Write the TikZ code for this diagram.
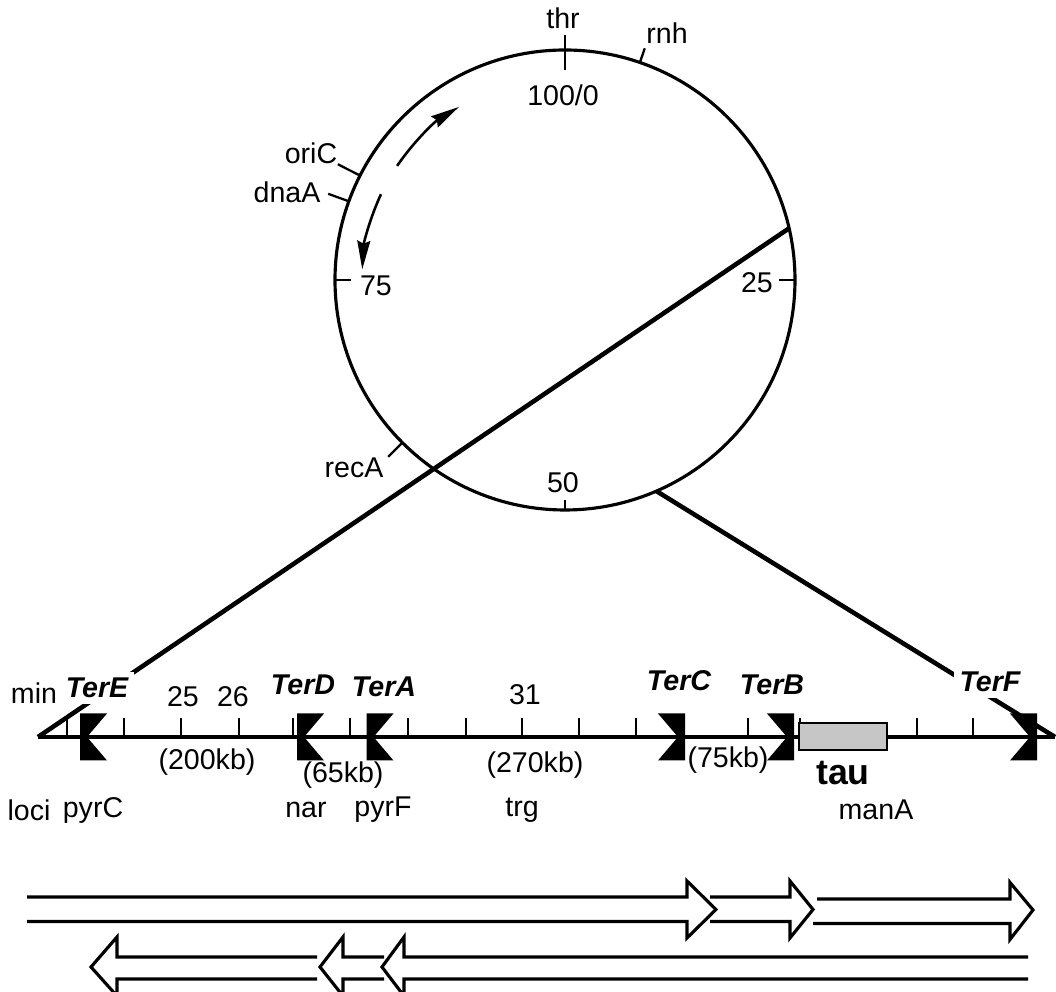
\documentclass[tikz,border=0pt]{standalone}
\usepackage{fontspec}
\setmainfont{Liberation Sans}
\usetikzlibrary{arrows.meta,calc}
\tikzset{
  lbl/.style={
    font=\fontsize{10}{12}\selectfont,
    inner sep=1pt
  },
  terlbl/.style={
    font=\fontsize{10}{12}\selectfont\bfseries\itshape,
    fill=white,
    inner sep=2pt
  },
  genelbl/.style={
    font=\fontsize{12.5}{14}\selectfont\bfseries,
    inner sep=1pt
  },
  mapline/.style={line width=1.1pt},
  zoomline/.style={line width=1.6pt},
  tickline/.style={line width=0.8pt},
  fork/.style={line width=0.9pt, -{Stealth[length=10pt,width=4.5pt,inset=1pt]}},
  blockarrow/.style={line width=1.1pt, line join=miter},
  terL/.pic={\fill (-13.5,23.5) -- (13.5,23.5) -- (-6.5,0) -- (13.5,-23.5) -- (-13.5,-23.5) -- cycle;},
  terR/.pic={\fill (13.5,23.5) -- (-13.5,23.5) -- (6.5,0) -- (-13.5,-23.5) -- (13.5,-23.5) -- cycle;}
}

\begin{document}
\begin{tikzpicture}[x=0.35pt, y=0.35pt]
  \useasboundingbox (0,0) rectangle (1056,992);

  % circular map
  \coordinate (c) at (565,712);
  \draw[mapline] (c) circle[radius=230];
  \foreach \a/\ri/\ro in {90/210/245, 71/230/245, 153/230/255, 160/230/252,
                          180/214/230, 0/214/230, 270/220/230, 225/230/250}
    \draw[tickline] ($(c)+(\a:\ri)$) -- ($(c)+(\a:\ro)$);
  \draw[fork] ($(c)+(145.8:203)$) arc[start angle=145.8, end angle=121.5, radius=203];
  \draw[fork] ($(c)+(155:203)$) arc[start angle=155, end angle=177, radius=203];

  \node[lbl] (thr) at (563,974) {thr};
  \node[lbl] (zero) at (563,897) {100/0};
  \node[lbl] (rnh) at (667,959) {rnh};
  \node[lbl] (oric) at (311,839) {oriC};
  \node[lbl] (dnaa) at (287,800) {dnaA};
  \node[lbl] (m75) at (376,706) {75};
  \node[lbl] (m25) at (757,709) {25};
  \node[lbl] (m50) at (563,509) {50};
  \node[lbl] (reca) at (354,524) {recA};

  % expanded region
  \coordinate (axL) at (38,255);
  \coordinate (axR) at (1055,255);
  \draw[zoomline] ($(c)+(13:230)$) -- (axL);
  \draw[zoomline] ($(c)+(293.4:230)$) -- (axR);
  \draw[mapline] (axL) -- (axR);
  \foreach \x in {67,124,181,239,293,350,408,466,522,579,636,748,800,917,973}
    \draw[tickline] (\x,255) -- (\x,274);
  \draw[tickline, fill=gray!45] (799,242) rectangle (887,269);

  \pic at (93.5,255) {terL};
  \pic at (310.5,255) {terL};
  \pic at (380,255) {terL};
  \pic at (671.5,255) {terR};
  \pic at (780.5,255) {terR};
  \pic at (1023.5,255) {terR};

  \node[lbl] (min) at (34,299) {min};
  \node[terlbl] (tere) at (97,304) {TerE};
  \node[lbl] (k25) at (183,295) {25};
  \node[lbl] (k26) at (233,295) {26};
  \node[terlbl] (terd) at (303,307) {TerD};
  \node[terlbl] (tera) at (384,305) {TerA};
  \node[lbl] (k31) at (525,297) {31};
  \node[terlbl] (terc) at (679,311) {TerC};
  \node[terlbl] (terb) at (772,307) {TerB};
  \node[terlbl] (terf) at (990,310) {TerF};

  \node[lbl] (kb200) at (207,230) {(200kb)};
  \node[lbl] (kb65) at (343,217) {(65kb)};
  \node[lbl] (kb270) at (535,227) {(270kb)};
  \node[lbl] (kb75) at (728,232) {(75kb)};
  \node[genelbl] (tau) at (843,219) {tau};

  \node[lbl] (loci) at (29,182) {loci};
  \node[lbl] (pyrc) at (93,182) {pyrC};
  \node[lbl] (nar) at (306,182) {nar};
  \node[lbl] (pyrf) at (383,182) {pyrF};
  \node[lbl] (trg) at (522,182) {trg};
  \node[lbl] (mana) at (876,182) {manA};

  % transcription units
  \draw[blockarrow] (27,95) -- (687,95) -- (687,111) -- (716,82.5) -- (687,54) -- (687,70.5) -- (27,70.5);
  \draw[blockarrow] (710,95) -- (790,95) -- (790,111) -- (813,82.5) -- (790,54) -- (790,70.5) -- (710,70.5);
  \draw[blockarrow] (817,93) -- (1010,93) -- (1010,109.5) -- (1033,82) -- (1010,52.5) -- (1010,68.5) -- (813,68.5);
  \draw[blockarrow] (317,35) -- (117,35) -- (117,55) -- (91,25) -- (117,-4) -- (117,13) -- (317,13);
  \draw[blockarrow] (384,35) -- (343,35) -- (343,55) -- (320,25) -- (343,-4) -- (343,13) -- (384,13);
  \draw[blockarrow] (1028,35) -- (404,35) -- (404,55) -- (382,25) -- (404,-4) -- (404,13) -- (1028,13);
\end{tikzpicture}
\end{document}
